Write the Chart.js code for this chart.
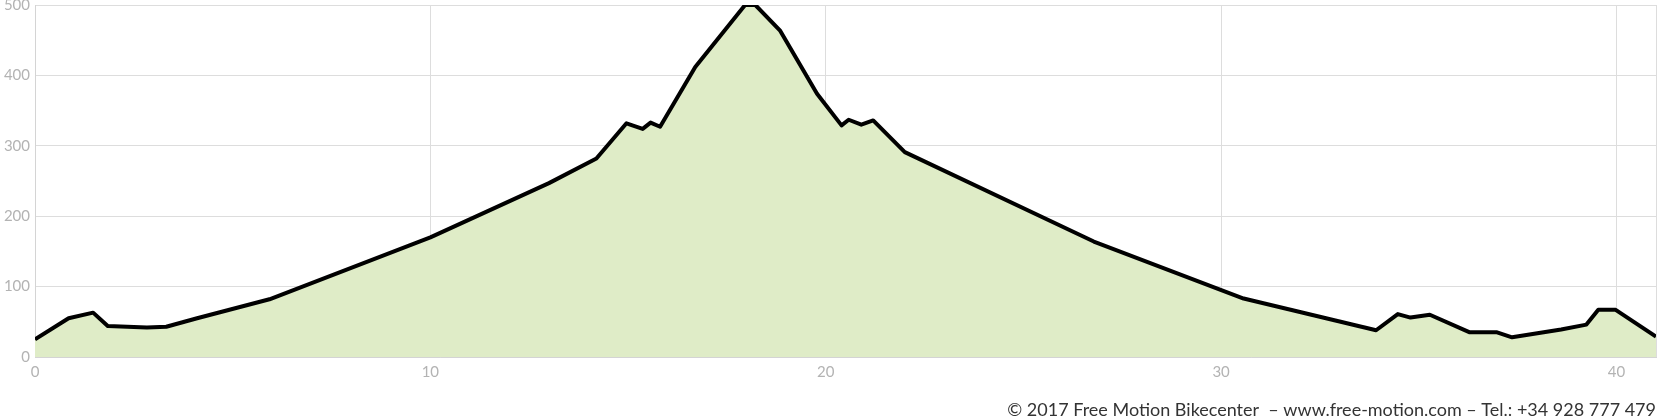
<!DOCTYPE html>
<html>
<head>
<meta charset="utf-8">
<script src="https://cdn.jsdelivr.net/npm/chart.js@4.4.1/dist/chart.umd.min.js"></script>
<style>
  html, body { margin: 0; padding: 0; background: #fff; }
  #wrap { width: 1658px; height: 419px; }
</style>
</head>
<body>
<div id="wrap"><canvas id="perfil"></canvas></div>
<script>
// distancia (km) y altitud (m) del perfil
const distancia = [0, 0.85, 1.47, 1.84, 2.83, 3.32, 4.1, 5.93, 10.0, 13.0, 14.2, 14.96, 15.37, 15.57, 15.81,
  16.7, 17.96, 18.22, 18.84, 19.78, 20.4, 20.58, 20.9, 21.2, 22.0, 26.78, 30.57,
  33.92, 34.47, 34.79, 35.28, 36.29, 36.98, 37.36, 38.6, 39.24, 39.54, 39.98, 41.0];
const altitud = [25, 55, 63, 44, 42, 43, 55, 82, 170, 247, 282, 332, 324, 333, 327,
  412, 500, 500, 464, 374, 329, 337, 330, 336, 291, 164, 83,
  38, 61, 56, 60, 35, 35, 28, 39, 46, 67, 67, 29];
const ticksX = [0, 10, 20, 30, 40];
const ticksY = [0, 100, 200, 300, 400, 500];
const pie = '© 2017 Free Motion Bikecenter  – www.free-motion.com – Tel.: +34 928 777 479';

const puntos = distancia.map((d, i) => ({ x: d, y: altitud[i] }));

const ctx = document.getElementById('perfil').getContext('2d');
new Chart(ctx, {
  type: 'line',
  data: {
    datasets: [{
      data: puntos,
      borderColor: '#000000',
      borderWidth: 4,
      borderJoinStyle: 'round',
      backgroundColor: '#dfecc7',
      fill: 'origin',
      pointRadius: 0,
      tension: 0
    }]
  },
  options: {
    responsive: true,
    maintainAspectRatio: false,
    animation: false,
    layout: { padding: { top: 5, right: 2, left: 0, bottom: 0 } },
    plugins: {
      legend: { display: false },
      tooltip: { enabled: false },
      subtitle: {
        display: true,
        text: pie,
        position: 'bottom',
        align: 'end',
        color: '#333333',
        font: { family: 'Lato', size: 18, lineHeight: 1 },
        padding: { top: 19, bottom: 0 }
      }
    },
    scales: {
      x: {
        type: 'linear',
        min: 0,
        max: 41,
        afterFit: s => { s.height = 25; s.paddingLeft = 0; s.paddingRight = 0; },
        afterBuildTicks: s => { s.ticks = ticksX.concat([41]).map(v => ({ value: v })); },
        grid: { color: '#dddddd', drawTicks: false },
        border: { color: '#d4d4d4' },
        ticks: {
          padding: 6,
          color: '#b3b3b3',
          font: { family: 'Lato', size: 15 },
          maxRotation: 0,
          callback: v => ticksX.includes(v) ? v : ''
        }
      },
      y: {
        min: 0,
        max: 500,
        afterFit: s => { s.width = 35; s.paddingTop = 0; s.paddingBottom = 0; },
        afterBuildTicks: s => { s.ticks = ticksY.map(v => ({ value: v })); },
        grid: { color: '#dddddd', drawTicks: false },
        border: { color: '#d4d4d4' },
        ticks: {
          padding: 5,
          color: '#b3b3b3',
          font: { family: 'Lato', size: 15 }
        }
      }
    }
  }
});
</script>
</body>
</html>
